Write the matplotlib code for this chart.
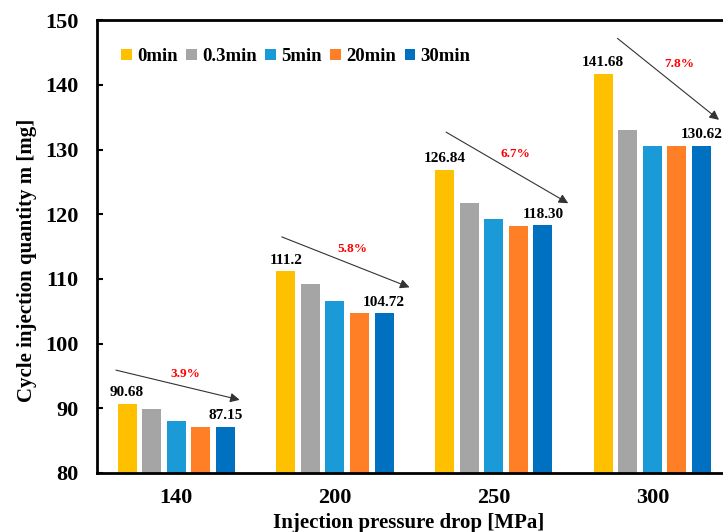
import numpy as np
import matplotlib
matplotlib.use('Agg')
import matplotlib.pyplot as plt

plt.rcParams['font.family'] = ['Liberation Serif', 'DejaVu Serif']
plt.rcParams['font.weight'] = 'bold'

# Data
pressures = ['140', '200', '250', '300']
series_names = ['0min', '0.3min', '5min', '20min', '30min']
values = {
    '0min':   [90.68, 111.2, 126.84, 141.68],
    '0.3min': [89.85, 109.2, 121.8, 133.1],
    '5min':   [88.0, 106.6, 119.2, 130.5],
    '20min':  [87.15, 104.8, 118.2, 130.62],
    '30min':  [87.15, 104.72, 118.30, 130.62],
}
colors = ['#FFC000', '#A5A5A5', '#1A9BD7', '#FF7F27', '#0070C0']

# labels shown above first / last bar of each group
first_labels = ['90.68', '111.2', '126.84', '141.68']
last_labels = ['87.15', '104.72', '118.30', '130.62']

# drop percentages and their arrows (start x, start y, end x, end y)
drop_pct = ['3.9%', '5.8%', '6.7%', '7.8%']
arrow_start = [(-0.38, 95.9), (0.665, 116.5), (1.70, 132.7), (2.78, 147.2)]
arrow_end = [(0.40, 91.3), (1.47, 108.7), (2.47, 121.7), (3.42, 134.6)]
pct_pos = [(0.06, 95.3), (1.11, 114.7), (2.14, 129.3), (3.17, 143.3)]

fig = plt.figure(figsize=(7.23, 5.32), dpi=100)
ax = fig.add_axes([0.134, 0.111, 0.878, 0.851])

x = np.arange(len(pressures))
width = 0.12
step = 0.155
for i, name in enumerate(series_names):
    ax.bar(x + (i - 2) * step, values[name], width, color=colors[i], label=name, zorder=2)

for j in range(len(pressures)):
    ax.text(x[j] - 2 * step, values['0min'][j] + 0.7, first_labels[j],
            ha='center', va='bottom', fontsize=11, fontweight='bold')
    ax.text(x[j] + 2 * step, values['30min'][j] + 0.7, last_labels[j],
            ha='center', va='bottom', fontsize=11, fontweight='bold')
    ax.annotate('', xy=arrow_end[j], xytext=arrow_start[j],
                arrowprops=dict(arrowstyle='-|>', color='#333333', lw=0.8,
                                mutation_scale=14, shrinkA=0, shrinkB=0,
                                facecolor='black'))
    ax.text(pct_pos[j][0], pct_pos[j][1], drop_pct[j], color='red',
            ha='center', va='center', fontsize=9.5, fontweight='bold')

ax.set_xlim(-0.5, 3.5)
ax.set_ylim(80, 150)
ax.set_yticks(np.arange(80, 151, 10))
ax.set_xticks(x)
ax.set_xticklabels(pressures)
ax.tick_params(axis='both', labelsize=16, width=1.5, length=4, direction='in')
ax.tick_params(axis='y', pad=13)
ax.tick_params(axis='x', length=0, pad=11)
for lbl in ax.get_xticklabels() + ax.get_yticklabels():
    lbl.set_fontweight('bold')
for sp in ax.spines.values():
    sp.set_linewidth(2)

ax.set_xlabel('Injection pressure drop [MPa]', fontsize=15, fontweight='bold')
ax.set_ylabel('Cycle injection quantity m [mg]', fontsize=15, fontweight='bold')
ax.xaxis.set_label_coords(0.491, -0.088)
ax.yaxis.set_label_coords(-0.095, 0.47)

ax.legend(loc='upper left', ncol=5, frameon=False,
          handlelength=0.55, handleheight=0.55, handletextpad=0.3, columnspacing=0.45,
          bbox_to_anchor=(0.012, 0.975), prop={'weight': 'bold', 'size': 13.5})

fig.savefig('out.png', dpi=100)
